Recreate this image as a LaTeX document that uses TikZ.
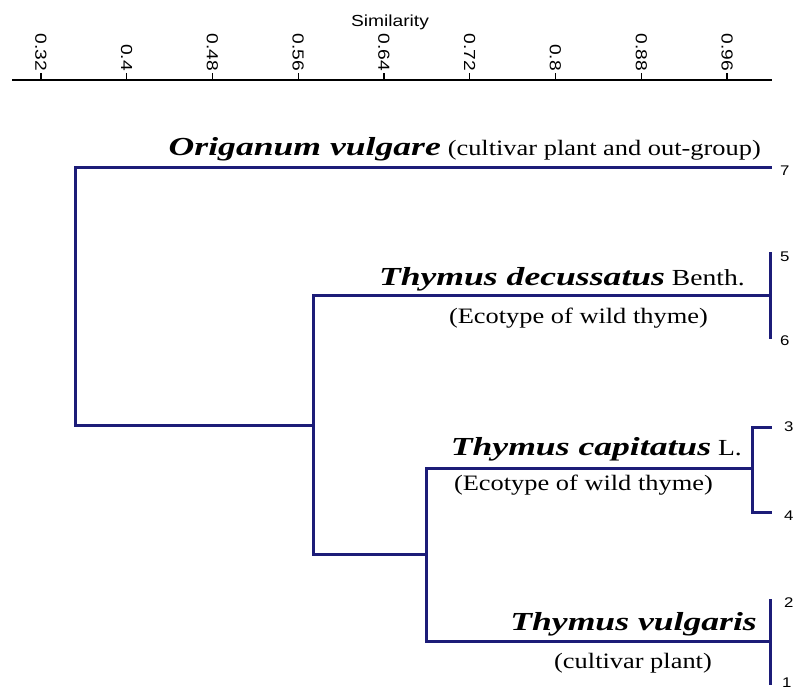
\documentclass[tikz,border=0pt]{standalone}
\usepackage{fontspec}
\setmainfont{Liberation Serif}
\newfontfamily\wideserif[FakeStretch=1.2]{Liberation Serif}
\newfontfamily\widebi[FakeStretch=1.37]{Liberation Serif}
\newfontfamily\widesans[FakeStretch=1.2]{Liberation Sans}
\newcommand{\specname}[1]{{\widebi\bfseries\itshape\fontsize{26}{28}\selectfont #1}}
\definecolor{dendro}{RGB}{28,28,120}
\begin{document}
\begin{tikzpicture}[x=1pt,y=-1pt,
  branch/.style={draw=dendro,line width=3pt,line cap=rect},
  species/.style={font=\wideserif\fontsize{23}{26}\selectfont,inner sep=0pt,anchor=base east},
  note/.style={font=\wideserif\fontsize{22}{26}\selectfont,inner sep=0pt,anchor=base east},
  ticklab/.style={font=\widesans\fontsize{16}{18}\selectfont,rotate=-90,anchor=east,inner sep=0pt},
  leaflab/.style={font=\widesans\fontsize{14}{16}\selectfont,inner sep=0pt,anchor=west}]
\useasboundingbox[fill=white] (0,0) rectangle (795,691);
% axis
\coordinate (axL) at (12,80);
\coordinate (axR) at (772,80);
\draw[line width=1.1pt] (axL) -- (axR);
\node[font=\widesans\fontsize{16}{18}\selectfont,inner sep=0pt] (sim) at (390,22) {Similarity};
\foreach \v/\lab [count=\i] in {0/0.32,1/0.4,2/0.48,3/0.56,4/0.64,5/0.72,6/0.8,7/0.88,8/0.96}{
  \coordinate (t\i) at ({41+85.75*\v},80);
  \draw[line width=1.1pt] (t\i) -- ++(0,-7);
  \node[ticklab] (tl\i) at ({41+85.75*\v},71) {\lab};
}
% dendrogram coordinates
\coordinate (l7) at (770,167);
\coordinate (r7) at (75,167);
\coordinate (rb) at (75,425);
\coordinate (d) at (313,425);
\coordinate (dt) at (313,295);
\coordinate (db) at (313,554);
\coordinate (e) at (770,295);
\coordinate (et) at (770,253);
\coordinate (eb) at (770,337);
\coordinate (f) at (426,554);
\coordinate (ft) at (426,468);
\coordinate (fb) at (426,641);
\coordinate (g) at (752,468);
\coordinate (gt) at (752,427);
\coordinate (gb) at (752,512);
\coordinate (l3) at (770,427);
\coordinate (l4) at (770,512);
\coordinate (h) at (770,641);
\coordinate (ht) at (770,600);
\coordinate (hb) at (770,683);
\draw[branch] (l7) -- (r7) -- (rb) -- (d);
\draw[branch] (dt) -- (db);
\draw[branch] (dt) -- (e);
\draw[branch] (et) -- (eb);
\draw[branch] (db) -- (f);
\draw[branch] (ft) -- (fb);
\draw[branch] (ft) -- (g);
\draw[branch] (l3) -- (gt) -- (gb) -- (l4);
\draw[branch] (fb) -- (h);
\draw[branch] (ht) -- (hb);
% leaf numbers
\node[leaflab] (n7) at (780,171) {7};
\node[leaflab] (n5) at (780,257) {5};
\node[leaflab] (n6) at (780,341) {6};
\node[leaflab] (n3) at (784,427) {3};
\node[leaflab] (n4) at (784,516) {4};
\node[leaflab] (n2) at (784,603) {2};
\node[leaflab] (n1) at (782,683) {1};
% labels
\node[species] (orig) at (761,155) {\specname{Origanum vulgare} {\fontsize{22}{26}\selectfont(cultivar plant and out-group)}};
\node[species] (dec) at (745,285) {\specname{Thymus decussatus} Benth.};
\node[note] (decn) at (708,323) {(Ecotype of wild thyme)};
\node[species] (cap) at (742,455) {\specname{Thymus capitatus} L.};
\node[note] (capn) at (713,490) {(Ecotype of wild thyme)};
\node[species] (vul) at (757,630) {\specname{Thymus vulgaris}};
\node[note] (vuln) at (712,668) {(cultivar plant)};
\end{tikzpicture}
\end{document}
